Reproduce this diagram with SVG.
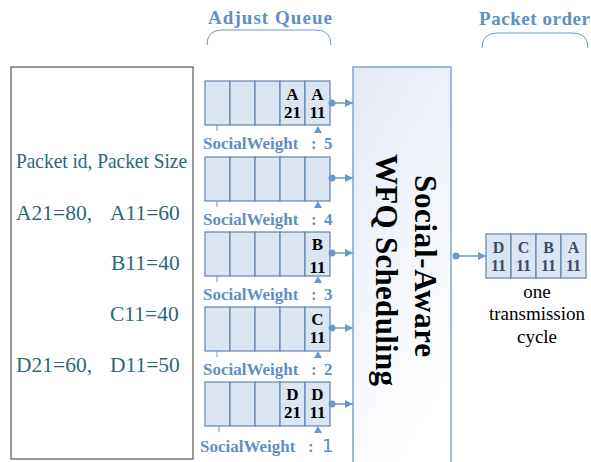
<svg xmlns="http://www.w3.org/2000/svg" width="591" height="462" viewBox="0 0 591 462">
<defs>
<linearGradient id="sg" x1="0" y1="0" x2="0.4" y2="1">
<stop offset="0" stop-color="#e3e9f5"/>
<stop offset="1" stop-color="#ffffff"/>
</linearGradient>
<marker id="ah" markerWidth="8" markerHeight="8" refX="8" refY="4" orient="auto" markerUnits="userSpaceOnUse">
<path d="M0,0 L8,4 L0,8 Z" fill="#6b98cb"/>
</marker>
</defs>
<style>
.cell{fill:#dce6f2;stroke:#6283b0;stroke-width:1.2}
.ct{font-family:"Liberation Serif",serif;font-weight:bold;font-size:17px;fill:#000;text-anchor:middle}
.pt{font-family:"Liberation Serif",serif;font-weight:bold;font-size:16px;fill:#3d4a6b;text-anchor:middle}
.sw{font-family:"Liberation Serif",serif;font-weight:bold;font-size:17px;fill:#5f8ec4}
.hd{font-family:"Liberation Serif",serif;font-weight:bold;font-size:19px;fill:#5f8ec4}
.lt{font-family:"Liberation Serif",serif;font-size:21.5px;fill:#2d6875}
.ot{font-family:"Liberation Serif",serif;font-size:19px;fill:#000;text-anchor:middle}
.conn{stroke:#6b98cb;stroke-width:1.5;fill:none}
.dot{fill:#6b98cb}
.tick{stroke:#6b98cb;stroke-width:1}
.br{stroke:#6b98cb;stroke-width:1;fill:none}
</style>

<g id="packet-list">
<rect x="11" y="67" width="182" height="392" fill="#fff" stroke="#333" stroke-width="1"/>
<text class="lt" x="16" y="168" textLength="171" lengthAdjust="spacingAndGlyphs">Packet id, Packet Size</text>
<text class="lt" x="16" y="220">A21=80,</text>
<text class="lt" x="110" y="220">A11=60</text>
<text class="lt" x="111" y="270">B11=40</text>
<text class="lt" x="110" y="321">C11=40</text>
<text class="lt" x="16" y="372">D21=60,</text>
<text class="lt" x="110" y="372">D11=50</text>
</g>

<g id="adjust-queue-label">
<text class="hd" x="208" y="24" textLength="124">Adjust  Queue</text>
<path class="br" d="M207,45 Q207,30 222,30 L316,30 Q331,30 331,45"/>
</g>

<g id="queue1">
<rect class="cell" x="205" y="81" width="25" height="44"/>
<rect class="cell" x="230" y="81" width="25" height="44"/>
<rect class="cell" x="255" y="81" width="25" height="44"/>
<rect class="cell" x="280" y="81" width="25" height="44"/>
<rect class="cell" x="305" y="81" width="25" height="44"/>
<text class="ct" x="292.5" y="100">A</text><text class="ct" x="292.5" y="118">21</text>
<text class="ct" x="317.5" y="100">A</text><text class="ct" x="317.5" y="118">11</text>
<line class="tick" x1="217" y1="125" x2="217" y2="131"/>
<path class="dot" d="M314,133 L318,126 L322,133 Z"/>
<text class="sw" x="203" y="149">SocialWeight<tspan x="311">:</tspan><tspan x="324">5</tspan></text>
</g>

<g id="queue2">
<rect class="cell" x="205" y="157" width="25" height="44"/>
<rect class="cell" x="230" y="157" width="25" height="44"/>
<rect class="cell" x="255" y="157" width="25" height="44"/>
<rect class="cell" x="280" y="157" width="25" height="44"/>
<rect class="cell" x="305" y="157" width="25" height="44"/>
<line class="tick" x1="217" y1="201" x2="217" y2="207"/>
<path class="dot" d="M314,208 L318,201 L322,208 Z"/>
<text class="sw" x="203" y="225">SocialWeight<tspan x="311">:</tspan><tspan x="324">4</tspan></text>
</g>

<g id="queue3">
<rect class="cell" x="205" y="232" width="25" height="44"/>
<rect class="cell" x="230" y="232" width="25" height="44"/>
<rect class="cell" x="255" y="232" width="25" height="44"/>
<rect class="cell" x="280" y="232" width="25" height="44"/>
<rect class="cell" x="305" y="232" width="25" height="44"/>
<text class="ct" x="317.5" y="250">B</text><text class="ct" x="317.5" y="273">11</text>
<line class="tick" x1="217" y1="276" x2="217" y2="282"/>
<path class="dot" d="M314,283 L318,276 L322,283 Z"/>
<text class="sw" x="203" y="300">SocialWeight<tspan x="311">:</tspan><tspan x="324">3</tspan></text>
</g>

<g id="queue4">
<rect class="cell" x="205" y="307" width="25" height="44"/>
<rect class="cell" x="230" y="307" width="25" height="44"/>
<rect class="cell" x="255" y="307" width="25" height="44"/>
<rect class="cell" x="280" y="307" width="25" height="44"/>
<rect class="cell" x="305" y="307" width="25" height="44"/>
<text class="ct" x="317.5" y="325">C</text><text class="ct" x="317.5" y="343">11</text>
<line class="tick" x1="217" y1="351" x2="217" y2="357"/>
<path class="dot" d="M314,358 L318,351 L322,358 Z"/>
<text class="sw" x="203" y="375">SocialWeight<tspan x="311">:</tspan><tspan x="324">2</tspan></text>
</g>

<g id="queue5">
<rect class="cell" x="205" y="382" width="25" height="44"/>
<rect class="cell" x="230" y="382" width="25" height="44"/>
<rect class="cell" x="255" y="382" width="25" height="44"/>
<rect class="cell" x="280" y="382" width="25" height="44"/>
<rect class="cell" x="305" y="382" width="25" height="44"/>
<text class="ct" x="292.5" y="400">D</text><text class="ct" x="292.5" y="418">21</text>
<text class="ct" x="317.5" y="400">D</text><text class="ct" x="317.5" y="418">11</text>
<line class="tick" x1="219" y1="426" x2="219" y2="432"/>
<path class="dot" d="M314,433 L318,426 L322,433 Z"/>
<text class="sw" x="200" y="452">SocialWeight<tspan x="308">:</tspan><tspan x="322" font-family="'DejaVu Sans',sans-serif" font-weight="normal" font-size="18">1</tspan></text>
</g>

<g id="scheduler">
<rect x="353" y="67" width="98" height="410" fill="url(#sg)" stroke="#7fa3cf" stroke-width="1.5"/>
<text transform="translate(415,266) rotate(90)" text-anchor="middle" font-family="'Liberation Serif',serif" font-weight="bold" font-size="31" fill="#000" textLength="182">Social-Aware</text>
<text transform="translate(376,270) rotate(90)" text-anchor="middle" font-family="'Liberation Serif',serif" font-weight="bold" font-size="31" fill="#000" textLength="232">WFQ Scheduling</text>
</g>

<g id="packet-order">
<text class="hd" x="479" y="25" textLength="111">Packet order</text>
<path class="br" d="M482,48 Q482,33 497,33 L573,33 Q588,33 588,48"/>
<rect class="cell" x="486" y="234" width="25" height="44"/>
<rect class="cell" x="511" y="234" width="25" height="44"/>
<rect class="cell" x="536" y="234" width="25" height="44"/>
<rect class="cell" x="561" y="234" width="25" height="44"/>
<text class="pt" x="498.5" y="253">D</text><text class="pt" x="498.5" y="271">11</text>
<text class="pt" x="523.5" y="253">C</text><text class="pt" x="523.5" y="271">11</text>
<text class="pt" x="548.5" y="253">B</text><text class="pt" x="548.5" y="271">11</text>
<text class="pt" x="573.5" y="253">A</text><text class="pt" x="573.5" y="271">11</text>
<text class="ot" x="537" y="298">one</text>
<text class="ot" x="537" y="320">transmission</text>
<text class="ot" x="537" y="343">cycle</text>
</g>

<g id="connectors">
<circle class="dot" cx="332" cy="103" r="3.5"/>
<line class="conn" x1="332" y1="103" x2="353" y2="103" marker-end="url(#ah)"/>
<circle class="dot" cx="332" cy="178" r="3.5"/>
<line class="conn" x1="332" y1="178" x2="353" y2="178" marker-end="url(#ah)"/>
<circle class="dot" cx="332" cy="253" r="3.5"/>
<line class="conn" x1="332" y1="253" x2="353" y2="253" marker-end="url(#ah)"/>
<circle class="dot" cx="332" cy="328" r="3.5"/>
<line class="conn" x1="332" y1="328" x2="353" y2="328" marker-end="url(#ah)"/>
<circle class="dot" cx="332" cy="404" r="3.5"/>
<line class="conn" x1="332" y1="404" x2="353" y2="404" marker-end="url(#ah)"/>
<circle class="dot" cx="456" cy="256" r="3.5"/>
<line class="conn" x1="456" y1="256" x2="486" y2="256" marker-end="url(#ah)"/>
</g>
</svg>
